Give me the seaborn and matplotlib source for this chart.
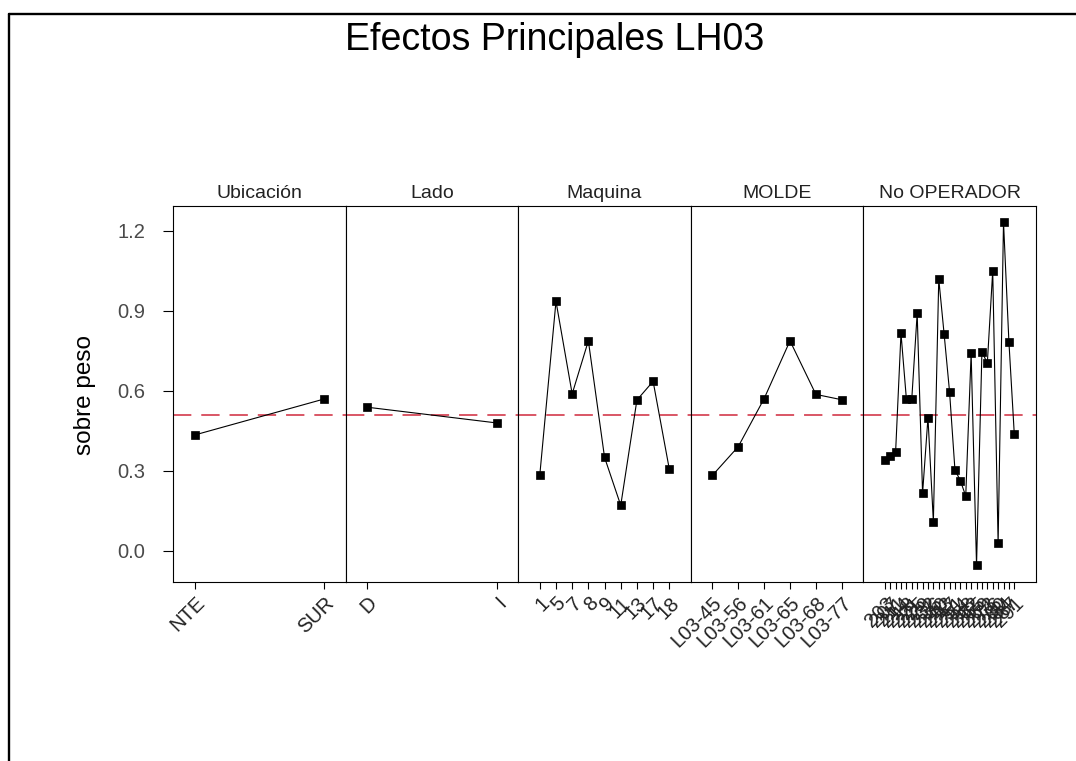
import matplotlib
matplotlib.use("Agg")
import matplotlib.pyplot as plt
from matplotlib.lines import Line2D
import numpy as np
import pandas as pd
import seaborn as sns

# Factor levels and mean "sobre peso" for each level
ubicacion_levels = ["NTE", "SUR"]
ubicacion_means = [0.434, 0.569]

lado_levels = ["D", "I"]
lado_means = [0.538, 0.479]

maquina_levels = ["1", "5", "7", "8", "9", "11", "13", "17", "18"]
maquina_means = [0.284, 0.935, 0.588, 0.787, 0.350, 0.170, 0.565, 0.635, 0.306]

molde_levels = ["L03-45", "L03-56", "L03-61", "L03-65", "L03-68", "L03-77"]
molde_means = [0.282, 0.390, 0.570, 0.787, 0.586, 0.566]

operador_levels = ["203", "207", "211", "214", "218", "221", "225", "229", "232",
                   "236", "240", "243", "247", "251", "254", "258", "262", "265",
                   "269", "273", "276", "280", "284", "287", "291"]
operador_means = [0.340, 0.356, 0.369, 0.815, 0.569, 0.569, 0.890, 0.215, 0.499,
                  0.109, 1.019, 0.811, 0.596, 0.303, 0.263, 0.205, 0.740, -0.054,
                  0.746, 0.703, 1.049, 0.028, 1.232, 0.784, 0.436]

grand_mean = 0.509
y_ticks = [0.0, 0.3, 0.6, 0.9, 1.2]
y_tick_labels = ["0.0", "0.3", "0.6", "0.9", "1.2"]

panels = [
    ("Ubicación", ubicacion_levels, ubicacion_means),
    ("Lado", lado_levels, lado_means),
    ("Maquina", maquina_levels, maquina_means),
    ("MOLDE", molde_levels, molde_means),
    ("No OPERADOR", operador_levels, operador_means),
]

sns.set_theme(style="ticks")
plt.rcParams["font.family"] = ["Liberation Sans", "DejaVu Sans"]

W, H = 1076, 761
fig = plt.figure(figsize=(W / 100, H / 100), dpi=100)
fig.patch.set_facecolor("white")

# panel geometry in pixels
left_px, panel_w = 173.3, 172.5
top_px, bottom_px = 206.0, 582.3
pad_px = 21.5

for i, (name, levels, means) in enumerate(panels):
    ax = fig.add_axes([(left_px + i * panel_w) / W, 1 - bottom_px / H,
                       panel_w / W, (bottom_px - top_px) / H])
    df = pd.DataFrame({"nivel": levels, "media": means})
    sns.pointplot(data=df, x="nivel", y="media", order=levels, color="black",
                  markers="s", linestyles="-", errorbar=None,
                  linewidth=0.8, markersize=5.2, markeredgewidth=0.5, ax=ax)
    n = len(levels)
    d = pad_px / (panel_w - 2 * pad_px) * (n - 1)
    ax.set_xlim(-d, n - 1 + d)
    ax.set_ylim(-0.1185, 1.2925)
    ax.axhline(grand_mean, color="#d0283c", lw=1.1, ls=(0, (12, 6.5)), zorder=0)
    ax.set_xlabel("")
    ax.set_ylabel("")
    for sp in ax.spines.values():
        sp.set_visible(True)
        sp.set_color("black")
        sp.set_linewidth(0.8)
    ax.tick_params(axis="x", direction="out", length=5, width=0.8,
                   color="black", labelsize=14.5, labelcolor="#222222", pad=3)
    ax.set_xticks(range(n))
    ax.set_xticklabels(levels, rotation=45, ha="right", va="top",
                       rotation_mode="anchor")
    if i == 0:
        ax.set_yticks(y_ticks)
        ax.set_yticklabels(y_tick_labels)
        ax.tick_params(axis="y", direction="out", length=7.2, width=0.8,
                       color="black", labelsize=14.5, labelcolor="#4a4a4a", pad=13)
    else:
        ax.set_yticks([])
    ax.text(0.5, 1.0345, name, transform=ax.transAxes, ha="center",
            va="center", fontsize=14, color="#222222")

fig.text(555 / W, 1 - 40 / H, "Efectos Principales LH03", ha="center",
         va="center", fontsize=27, color="black")
fig.text(85 / W, 1 - 395 / H, "sobre peso", rotation=90, ha="center",
         va="center", fontsize=17.5, color="black")

# outer frame lines (top and left)
fig.add_artist(Line2D([9 / W, 9 / W], [0, 1 - 14 / H], transform=fig.transFigure,
                      color="black", lw=1.7))
fig.add_artist(Line2D([9 / W, 1], [1 - 14 / H, 1 - 14 / H],
                      transform=fig.transFigure, color="black", lw=1.7))

fig.savefig("out.png", dpi=100, facecolor="white")
